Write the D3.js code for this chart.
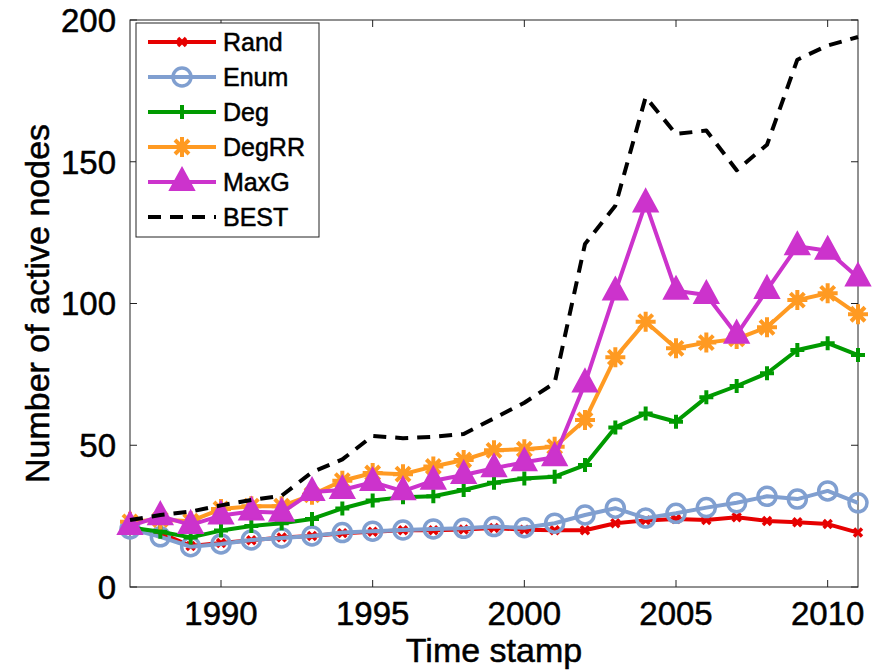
<!DOCTYPE html>
<html>
<head>
<meta charset="utf-8">
<script src="https://cdn.jsdelivr.net/npm/d3@7"></script>
<style>
  body { margin: 0; background: #fff; }
  text { font-family: 'Liberation Sans', Arial, Helvetica, sans-serif; fill: #000; stroke: #000; stroke-width: 0.5px; }
</style>
</head>
<body>
<div id="chart"></div>
<script>
let years = d3.range(1987, 2012)

let rand = [21, 19, 14.5, 15.5, 16.5, 17.5, 18, 19, 19.5, 20, 20, 20.3, 20.8, 20.2, 20, 20, 22.5, 23.5, 24, 23.6, 24.6, 23.3, 22.8, 22.2, 19.2]
let enumVals = [20.5, 17.7, 14.2, 15.2, 16.6, 17.3, 18, 19.2, 19.7, 20.1, 20.5, 20.7, 21.3, 20.9, 22.5, 25.4, 27.8, 24.3, 26, 28, 29.7, 32, 31, 33.9, 29.7]
let deg = [21, 19.5, 17.5, 19.9, 21.5, 22.5, 24, 27.7, 30.5, 31.7, 32, 34.2, 36.8, 38.3, 38.9, 43, 56.3, 61.2, 58.3, 66.9, 70.9, 75.4, 83.6, 86, 81.8]
let degRR = [23, 23.8, 23.2, 27.5, 28.5, 28.5, 32.5, 37.5, 40.2, 39.8, 42.5, 44.8, 48.2, 48.6, 49.5, 58.9, 81, 93.6, 84.2, 86.2, 87.5, 91.6, 101.2, 103.6, 96.2]
let maxG = [21.5, 25, 21.9, 25.2, 26.6, 26.2, 33.5, 34.2, 37, 33.8, 37.5, 39.5, 41.9, 44, 45.8, 71.8, 104.2, 135.3, 104.5, 103, 89, 104.8, 120.2, 118.6, 109.2]
let best = [23.6, 25.4, 26.6, 28.8, 30.7, 32.2, 40.5, 45, 53.3, 52.5, 53, 54, 59.5, 65, 72, 121, 134.5, 172.8, 159.8, 161, 147, 156, 186, 191, 194]

let seriesNames = ['Rand', 'Enum', 'Deg', 'DegRR', 'MaxG', 'BEST']
let seriesValues = [rand, enumVals, deg, degRR, maxG, best]
let seriesColors = ['#e60000', '#809fd0', '#009a00', '#ff9a22', '#cc33cc', '#000000']
let seriesMarkers = ['x', 'circle', 'plus', 'star', 'triangle', 'none']

let xTicks = [1990, 1995, 2000, 2005, 2010]
let yTicks = [0, 50, 100, 150, 200]

let width = 881
let height = 670
let plot = { left: 130, right: 858, top: 20, bottom: 587 }

let svg = d3
  .select('#chart')
  .append('svg')
  .attr('width', width)
  .attr('height', height)

let x = d3.scaleLinear().domain([1987, 2011]).range([plot.left, plot.right])
let y = d3.scaleLinear().domain([0, 200]).range([plot.bottom, plot.top])

// box and ticks (matlab style, ticks inside on all sides)
let tickLen = 7
svg.append('rect')
  .attr('x', plot.left)
  .attr('y', plot.top)
  .attr('width', plot.right - plot.left)
  .attr('height', plot.bottom - plot.top)
  .attr('fill', 'none')
  .attr('stroke', '#222')
  .attr('stroke-width', 1)

xTicks.forEach(t => {
  svg.append('line')
    .attr('x1', x(t)).attr('x2', x(t))
    .attr('y1', plot.bottom).attr('y2', plot.bottom - tickLen)
    .attr('stroke', '#222')
  svg.append('line')
    .attr('x1', x(t)).attr('x2', x(t))
    .attr('y1', plot.top).attr('y2', plot.top + tickLen)
    .attr('stroke', '#222')
  svg.append('text')
    .attr('x', x(t))
    .attr('y', plot.bottom + 38)
    .attr('text-anchor', 'middle')
    .attr('font-size', '33px')
    .text(t)
})

yTicks.forEach(t => {
  svg.append('line')
    .attr('x1', plot.left).attr('x2', plot.left + tickLen)
    .attr('y1', y(t)).attr('y2', y(t))
    .attr('stroke', '#222')
  svg.append('line')
    .attr('x1', plot.right).attr('x2', plot.right - tickLen)
    .attr('y1', y(t)).attr('y2', y(t))
    .attr('stroke', '#222')
  svg.append('text')
    .attr('x', plot.left - 14)
    .attr('y', y(t))
    .attr('dy', '0.36em')
    .attr('text-anchor', 'end')
    .attr('font-size', '33px')
    .text(t)
})

svg.append('text')
  .attr('x', (plot.left + plot.right) / 2)
  .attr('y', 662)
  .attr('text-anchor', 'middle')
  .attr('font-size', '34px')
  .text('Time stamp')

svg.append('text')
  .attr('transform', `translate(49, ${(plot.top + plot.bottom) / 2}) rotate(-90)`)
  .attr('text-anchor', 'middle')
  .attr('font-size', '34px')
  .text('Number of active nodes')

function drawMarker(g, type, color) {
  if (type === 'x') {
    g.append('path').attr('d', 'M-4,-4L4,4M-4,4L4,-4')
      .attr('stroke', color).attr('stroke-width', 3.5).attr('fill', 'none')
  } else if (type === 'circle') {
    g.append('circle').attr('r', 9)
      .attr('stroke', color).attr('stroke-width', 3.5).attr('fill', 'none')
  } else if (type === 'plus') {
    g.append('path').attr('d', 'M-7,0L7,0M0,-7L0,7')
      .attr('stroke', color).attr('stroke-width', 4).attr('fill', 'none')
  } else if (type === 'star') {
    g.append('path').attr('d', 'M-10,0L10,0M0,-10L0,10M-7,-7L7,7M-7,7L7,-7')
      .attr('stroke', color).attr('stroke-width', 4).attr('fill', 'none')
  } else if (type === 'triangle') {
    g.append('path').attr('d', 'M0,-14L12,8L-12,8Z')
      .attr('stroke', color).attr('stroke-width', 2).attr('fill', color)
  }
}

let line = d3.line()
  .x((d, i) => x(years[i]))
  .y(d => y(d))

seriesNames.forEach((name, si) => {
  let vals = seriesValues[si]
  let color = seriesColors[si]
  let g = svg.append('g').attr('class', 'series')

  g.append('path')
    .datum(vals)
    .attr('d', line)
    .attr('fill', 'none')
    .attr('stroke', color)
    .attr('stroke-width', 4)
    .attr('stroke-linejoin', 'round')
    .attr('stroke-dasharray', seriesMarkers[si] === 'none' ? '13,9' : null)

  g.selectAll('.marker')
    .data(vals)
    .enter()
    .append('g')
    .attr('class', 'marker')
    .attr('transform', (d, i) => `translate(${x(years[i])},${y(d)})`)
    .each(function() {
      drawMarker(d3.select(this), seriesMarkers[si], color)
    })
})

// legend
let legend = svg.append('g')
legend.append('rect')
  .attr('x', 136).attr('y', 23)
  .attr('width', 183).attr('height', 214)
  .attr('fill', '#fff')
  .attr('stroke', '#222')
  .attr('stroke-width', 1)

seriesNames.forEach((name, si) => {
  let ly = 42 + si * 35
  let color = seriesColors[si]
  legend.append('line')
    .attr('x1', 148).attr('x2', 216)
    .attr('y1', ly).attr('y2', ly)
    .attr('stroke', color)
    .attr('stroke-width', 4)
    .attr('stroke-dasharray', seriesMarkers[si] === 'none' ? '13,9' : null)
  let mg = legend.append('g').attr('transform', `translate(182,${ly})`)
  drawMarker(mg, seriesMarkers[si], color)
  legend.append('text')
    .attr('x', 223)
    .attr('y', ly)
    .attr('dy', '0.36em')
    .attr('font-size', '25px')
    .text(name)
})
</script>
</body>
</html>
